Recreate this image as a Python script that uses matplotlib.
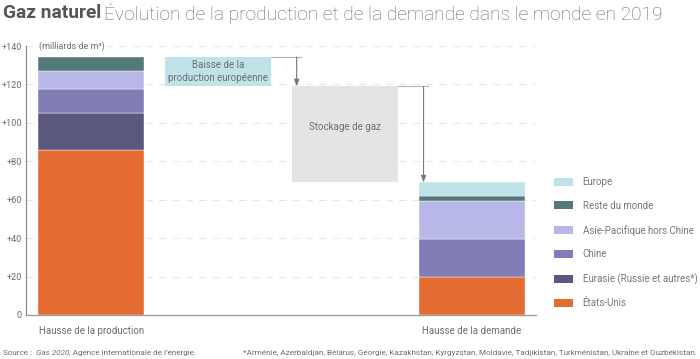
import numpy as np
import matplotlib
matplotlib.use("Agg")
import matplotlib.pyplot as plt
from matplotlib.patches import Patch

plt.rcParams['font.family'] = ['Roboto', 'DejaVu Sans']

# données (milliards de m3), empilées de bas en haut
regions = ["États-Unis", "Eurasie (Russie et autres*)", "Chine",
           "Asie-Pacifique hors Chine", "Reste du monde", "Europe"]
colors = ["#e46c33", "#5b587e", "#837db5", "#b8b8e8", "#53797b", "#c0e3ea"]
production = [85.7, 19.5, 12.6, 9.2, 7.3, 0.0]
demand = [19.6, 0.0, 20.0, 19.9, 2.5, 7.1]
europe_decline = 15.3
storage = 50.0
x_labels = ["Hausse de la production", "", "", "Hausse de la demande"]
yticks = [0, 20, 40, 60, 80, 100, 120, 140]

GREY = "#6e6e6e"
W = 0.835

fig = plt.figure(figsize=(7, 3.59), dpi=100)
ax = fig.add_axes([26/700, 1 - 315/359, 510/700, 269/359])

x = np.arange(4)

# barres empilées
bottom_p = 0
bottom_d = 0
for name, col, p, d in zip(regions, colors, production, demand):
    if p:
        ax.bar(x[0], p, W, bottom=bottom_p, color=col, edgecolor="white", lw=0.3, zorder=2)
    if d:
        ax.bar(x[3], d, W, bottom=bottom_d, color=col, edgecolor="white", lw=0.3, zorder=2)
    bottom_p += p
    bottom_d += d

total_prod = bottom_p
after_eu = total_prod - europe_decline
after_sto = after_eu - storage

# boîtes de la cascade
ax.bar(x[1], europe_decline, W, bottom=after_eu, color="#c0e3ea", zorder=2)
ax.text(x[1], after_eu + europe_decline / 2, "Baisse de la\nproduction européenne",
        ha="center", va="center", fontsize=7, color=GREY, linespacing=1.3, zorder=3)
ax.bar(x[2], storage, W, bottom=after_sto, color="#e4e4e4", zorder=2)
ax.text(x[2], after_sto + storage / 2 + 4, "Stockage de gaz",
        ha="center", va="center", fontsize=7, color=GREY, zorder=3)

# connecteurs + flèches
for i, top, bot in [(1, total_prod, after_eu), (2, after_eu, after_sto)]:
    xr = x[i] + W / 2
    xa = x[i + 1] - W / 2 + 0.036
    ax.plot([xr, xa + 0.033], [top, top], color="#b5b5b5", lw=0.8, zorder=3)
    ax.annotate("", xy=(xa, bot), xytext=(xa, top),
                arrowprops=dict(arrowstyle="-|>,head_length=0.4,head_width=0.15",
                                color="#777777", lw=0.8, shrinkA=0, shrinkB=0), zorder=3)

ax.set_xlim(-0.515, 3.505)
ax.set_ylim(0, 140)
ax.set_yticks(yticks)
ax.set_yticklabels(["0" if v == 0 else f"+{v}" for v in yticks])
ax.set_xticks(x)
ax.set_xticklabels(x_labels)
ax.tick_params(axis="y", length=0, pad=3, labelsize=6.6, labelcolor=GREY)
ax.tick_params(axis="x", length=0, pad=8, labelsize=7, labelcolor=GREY)
for v in yticks[1:]:
    ax.axhline(v, color="#e6e6e6", lw=0.8, ls=(0, (6, 6)), zorder=0)
for s in ["top", "right"]:
    ax.spines[s].set_visible(False)
ax.spines["left"].set_color("#8a8a8a")
ax.spines["bottom"].set_color("#a0a0a0")
ax.spines["left"].set_linewidth(0.9)
ax.spines["bottom"].set_linewidth(1.0)

ax.text(0.025, 140, "(milliards de m³)", transform=ax.get_yaxis_transform(),
        ha="left", va="center", fontsize=6.5, color=GREY)

# légende
handles = [Patch(facecolor=c, label=r) for r, c in zip(regions, colors)][::-1]
leg = fig.legend(handles=handles, loc="upper left", bbox_to_anchor=(554/700, 1 - 177/359),
                 frameon=False, fontsize=7, handlelength=2.0, handleheight=0.9,
                 labelspacing=1.42, handletextpad=0.95, borderpad=0, borderaxespad=0)
for t in leg.get_texts():
    t.set_color("#777777")

# titre
fig.canvas.draw()
rend = fig.canvas.get_renderer()
t1 = fig.text(3/700, 1 - 13/359, "Gaz naturel", fontsize=13.8, fontweight="bold",
              color="#555555", va="center", ha="left")
bb = t1.get_window_extent(renderer=rend)
fig.text((bb.x1 + 3) / 700, 1 - 13/359,
         "Évolution de la production et de la demande dans le monde en 2019",
         fontsize=13.8, fontweight="light", color="#666666", va="center", ha="left")

# sources
yf = 1 - 353/359
xs = 3
for part, style in [("Source : ", "normal"), ("Gas 2020", "italic"),
                    (", Agence internationale de l’énergie.", "normal")]:
    t = fig.text(xs / 700, yf, part, fontsize=5.9, color=GREY, va="center",
                 ha="left", fontstyle=style)
    xs = t.get_window_extent(renderer=rend).x1 + (1.5 if part.endswith(" ") else 0)
fig.text(697/700, yf,
         "*Arménie, Azerbaïdjan, Bélarus, Géorgie, Kazakhstan, Kyrgyzstan, Moldavie, "
         "Tadjikistan, Turkménistan, Ukraine et Ouzbékistan.",
         fontsize=5.9, color=GREY, va="center", ha="right")

fig.savefig("out.png", dpi=100)
